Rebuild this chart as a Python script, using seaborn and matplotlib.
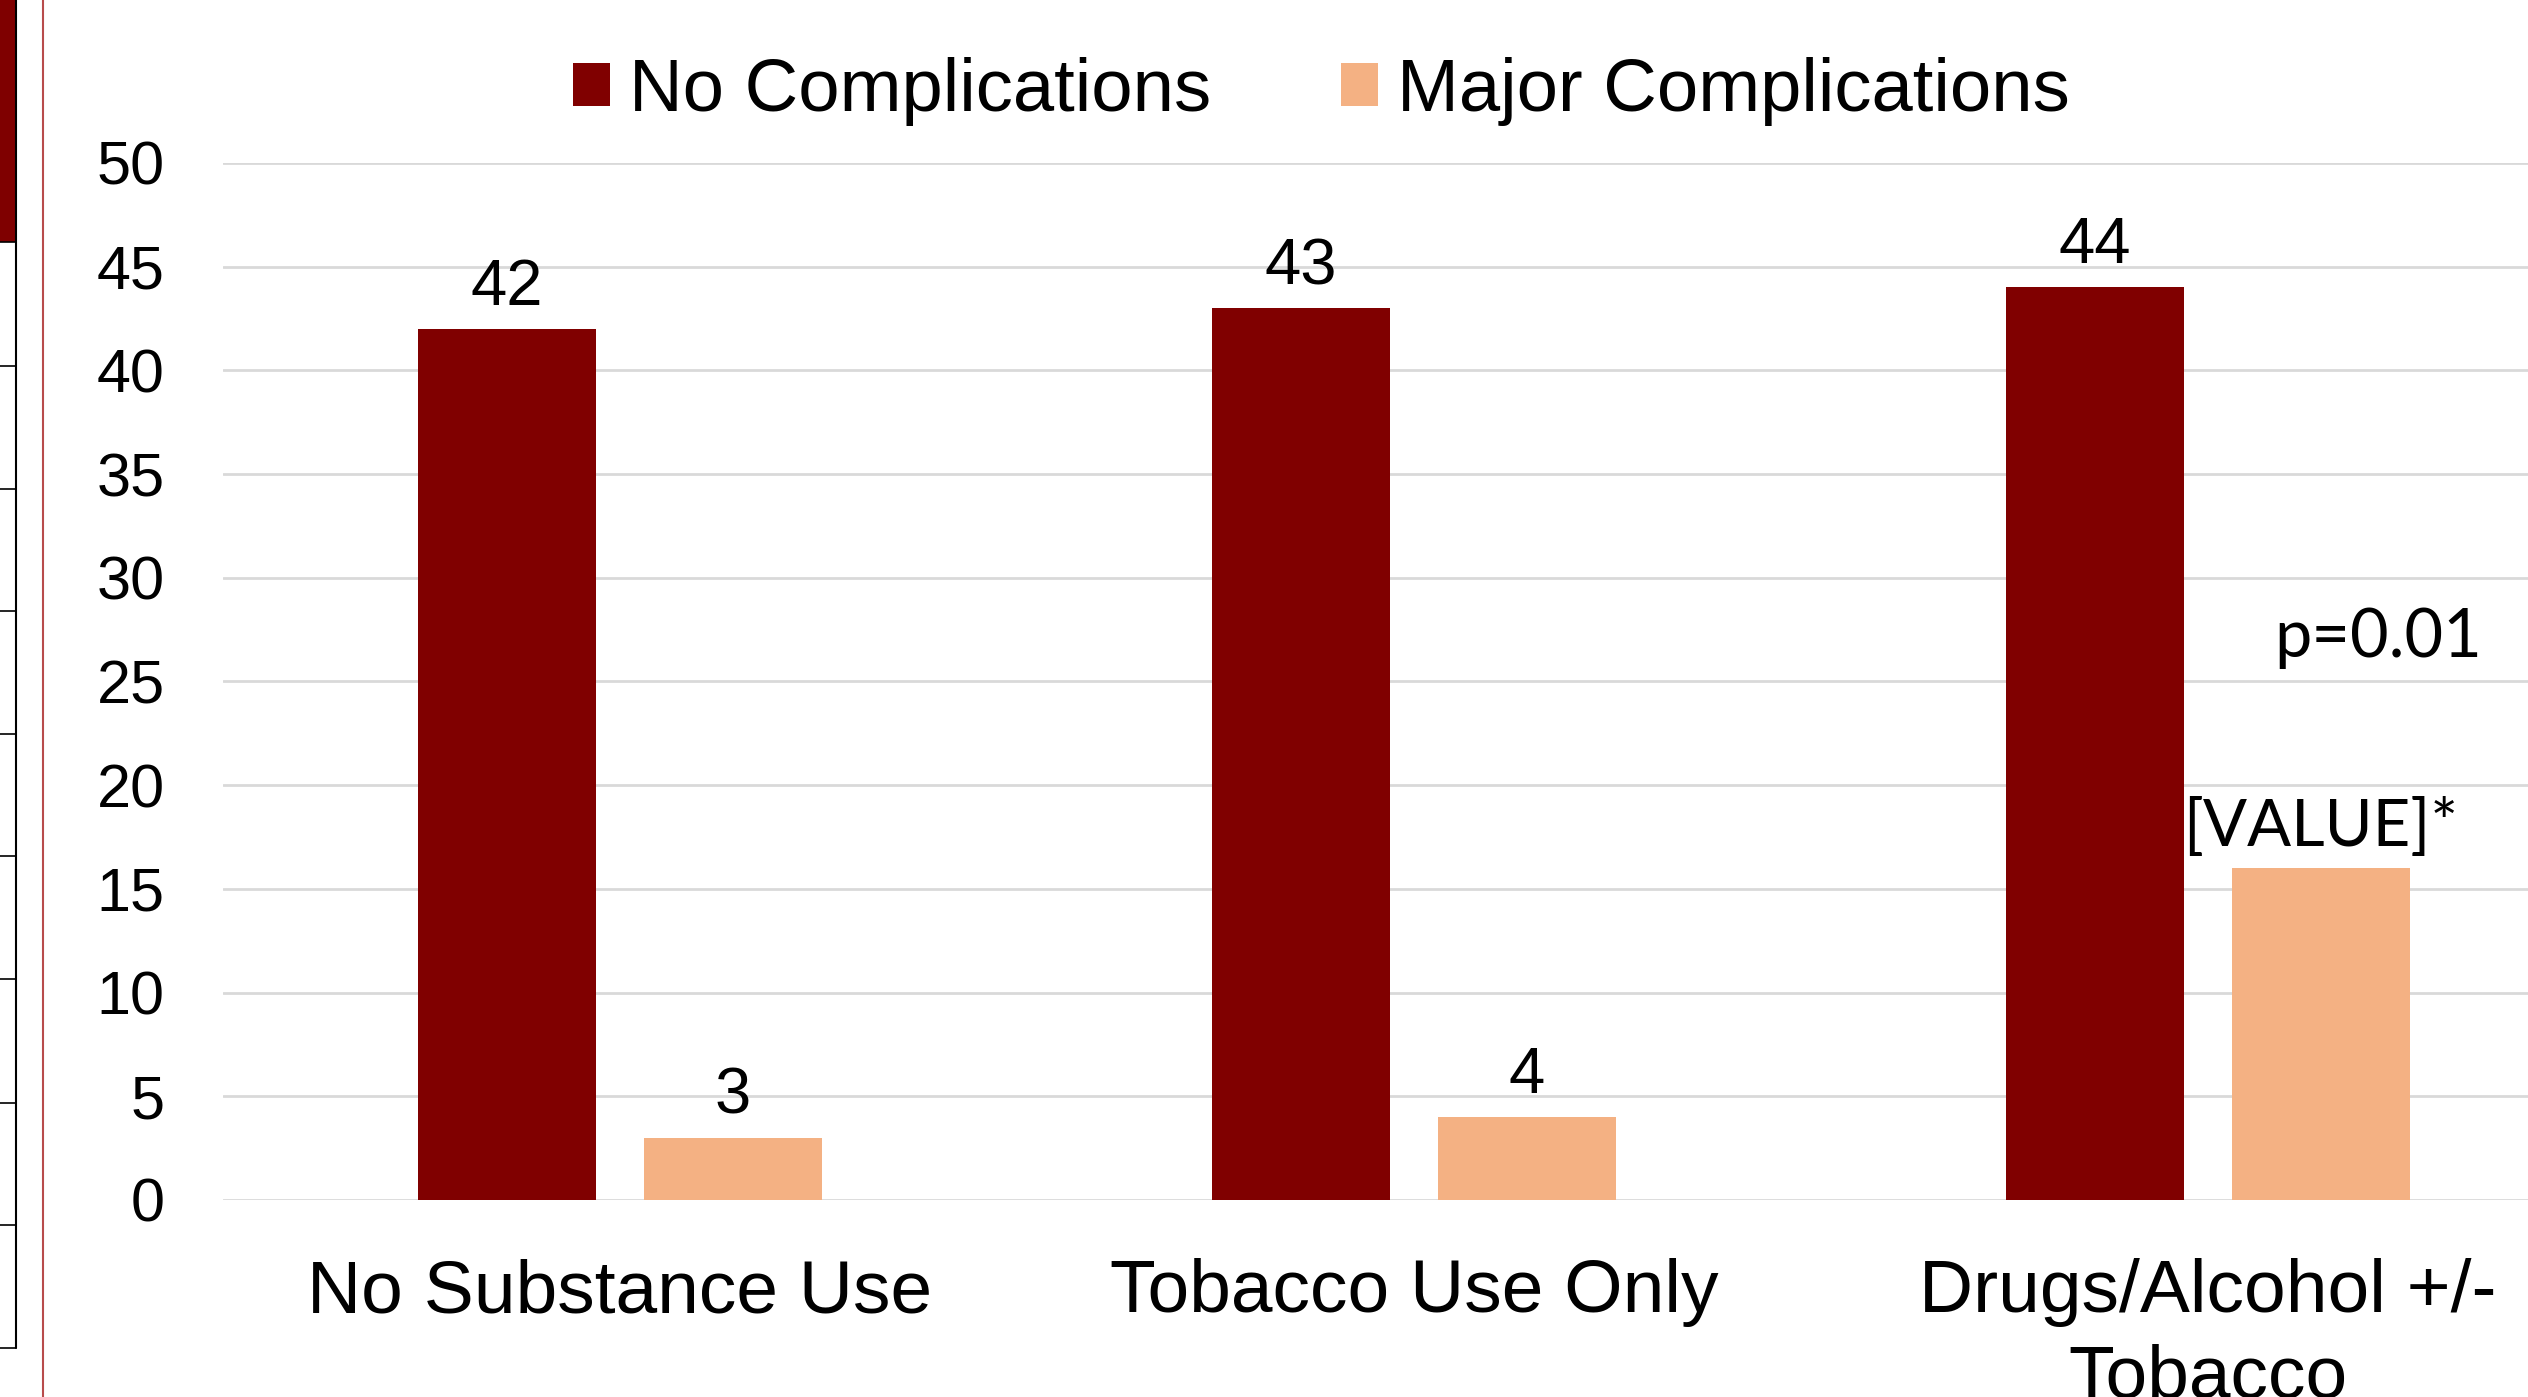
import pandas as pd
import seaborn as sns
import matplotlib.pyplot as plt
from matplotlib.patches import Rectangle
from matplotlib.lines import Line2D

# Data
categories = ["No Substance Use", "Tobacco Use Only", "Drugs/Alcohol +/-\nTobacco"]
series_names = ["No Complications", "Major Complications"]
no_complications = [42, 43, 44]
major_complications = [3, 4, 16]
no_comp_labels = ["42", "43", "44"]
major_labels = ["3", "4", "[VALUE]*"]
y_ticks = [0, 5, 10, 15, 20, 25, 30, 35, 40, 45, 50]
p_text = "p=0.01"

df = pd.DataFrame({
    "category": categories * 2,
    "series": [series_names[0]] * 3 + [series_names[1]] * 3,
    "count": no_complications + major_complications,
})

sns.set_theme(style="white")
plt.rcParams["font.family"] = ["Liberation Sans", "DejaVu Sans"]
plt.rcParams["text.color"] = "black"
plt.rcParams["xtick.color"] = "black"
plt.rcParams["ytick.color"] = "black"

W, H = 2528, 1397
fig = plt.figure(figsize=(W / 100, H / 100), dpi=100)
ax = fig.add_axes([223 / W, 1 - 1200 / H, 2382 / W, (1200 - 163) / H])

sns.barplot(data=df, x="category", y="count", hue="series",
            palette=["#800000", "#F4B183"], saturation=1,
            width=0.569, gap=0.214, edgecolor="none", ax=ax)

ax.set_ylim(0, 50)
ax.set_xlim(-0.5, 2.5)
ax.set_yticks(y_ticks)
ax.set_xlabel("")
ax.set_ylabel("")
ax.yaxis.grid(True, color="#d9d9d9", linewidth=2)
ax.set_axisbelow(True)
for s in ax.spines.values():
    s.set_visible(False)
ax.tick_params(axis="both", length=0, colors="black")
ax.tick_params(axis="y", labelsize=44, pad=42)
ax.tick_params(axis="x", labelsize=54, pad=42)
for t in ax.get_xticklabels():
    t.set_linespacing(1.3)

# value labels
ax.bar_label(ax.containers[0], labels=no_comp_labels, padding=8,
             fontsize=47, color="black")
lbls = ax.bar_label(ax.containers[1], labels=major_labels, padding=8,
                    fontsize=47, color="black")
lbls[-1].set_family(["Lato", "DejaVu Sans"])
lbls[-1].set_fontsize(47)

ax.text(2.214, 27.1, p_text, ha="center", va="center", fontsize=48,
        family=["Lato", "DejaVu Sans"], color="black")

handles, labels = ax.get_legend_handles_labels()
leg = ax.legend(handles, labels, loc="center", bbox_to_anchor=(0.5226, 0.9345),
                bbox_transform=fig.transFigure, ncol=2, frameon=False,
                fontsize=53.5, handlelength=0.5, handleheight=0.5,
                handletextpad=0.25, columnspacing=1.75)
for t in leg.get_texts():
    t.set_color("black")

# slide edge leftovers on the left side
fig.add_artist(Rectangle((0, 1 - 242 / H), 16 / W, 242 / H,
                         transform=fig.transFigure, facecolor="#7f0000",
                         edgecolor="none"))
fig.add_artist(Line2D([16 / W, 16 / W], [1, 1 - 1348 / H],
                      transform=fig.transFigure, color="black", lw=1.5))
for yy in [242, 366, 489, 611, 734, 856, 979, 1103, 1225, 1348]:
    fig.add_artist(Line2D([0, 16 / W], [1 - yy / H, 1 - yy / H],
                          transform=fig.transFigure, color="black", lw=1.2))
fig.add_artist(Line2D([43 / W, 43 / W], [0, 1], transform=fig.transFigure,
                      color="#b84c4c", lw=1.5))

fig.savefig("out.png", dpi=100)
